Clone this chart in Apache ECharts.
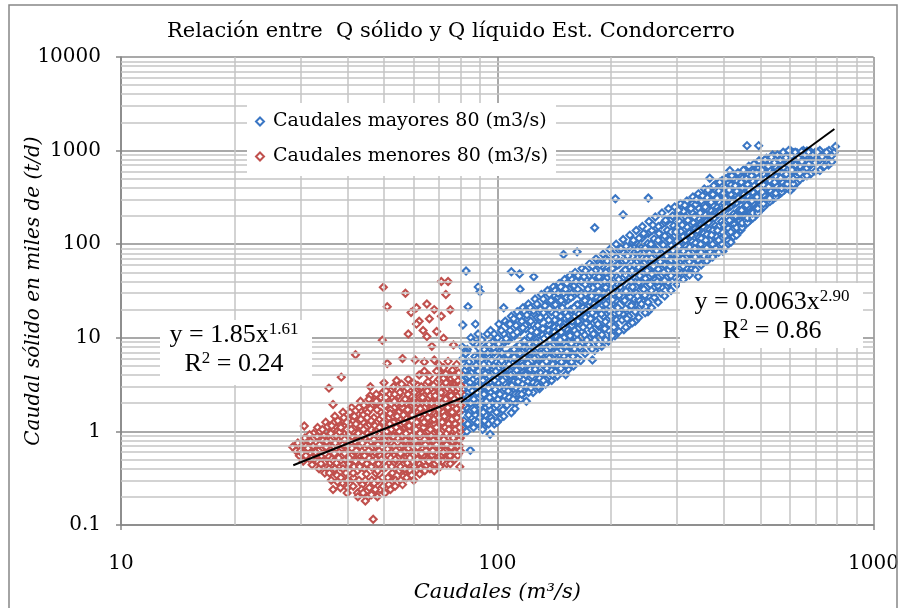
<!DOCTYPE html>
<html>
<head>
<meta charset="utf-8">
<script src="https://cdn.jsdelivr.net/npm/echarts@6/dist/echarts.min.js"></script>
<style>
  html, body { margin: 0; padding: 0; background: #fff; }
  #main { width: 902px; height: 608px; }
</style>
</head>
<body>
<div id="main"></div>
<script>
// Caudales menores 80 (m3/s): [caudal, Q solido en miles t/d]
var redPoints = [
  [28.6,0.68],[29.2,0.62],[29.8,0.55],[30.1,0.72],[30.5,0.48],[30.8,0.85],[31.2,0.6],[31.5,0.52],[31.9,0.78],[32.2,0.44],
  [32.5,0.95],[32.8,0.66],[33.1,0.58],[33.3,1.1],[33.6,0.4],[33.9,0.82],[34.2,0.5],[34.5,0.72],[34.8,0.36],[35.0,1.25],
  [35.3,0.62],[35.6,0.9],[35.9,0.46],[36.2,0.3],[36.4,1.05],[36.6,0.24],[36.7,0.7],[37.0,1.45],[37.2,0.55],[37.5,0.34],
  [37.8,0.85],[38.0,1.2],[38.2,0.42],[38.5,0.65],[38.7,0.28],[38.9,1.6],[39.2,0.95],[39.4,0.5],[39.7,0.75],[40.0,0.25],
  [40.2,1.35],[40.5,0.38],[40.7,0.6],[41.0,1.8],[41.2,0.88],[41.5,0.32],[41.8,1.1],[42.0,0.48],[42.3,0.7],[42.5,0.22],
  [42.8,1.5],[43.0,0.56],[43.3,2.1],[43.5,0.82],[43.8,0.27],[44.0,1.25],[44.3,0.4],[44.5,0.65],[44.8,1.7],[45.0,0.2],
  [45.2,0.95],[45.4,0.2],[45.6,0.52],[45.9,2.4],[46.1,0.75],[46.4,0.3],[46.8,0.115],[47.0,1.4],[47.2,0.6],[47.5,0.36],
  [47.8,1.05],[48.0,2.0],[48.3,0.45],[48.5,0.85],[48.8,0.24],[49.0,1.6],[49.3,0.68],[49.6,2.6],[49.9,0.4],[50.2,1.2],
  [50.5,0.28],[50.8,0.9],[51.0,2.2],[51.3,0.55],[51.6,1.4],[51.9,0.33],[52.2,0.75],[52.5,2.8],[52.8,1.0],[53.1,0.46],
  [53.4,1.8],[53.7,0.3],[54.0,0.62],[54.3,1.25],[54.6,2.4],[54.9,0.38],[55.2,0.85],[55.5,1.55],[55.8,0.5],[56.1,3.0],
  [56.4,0.7],[56.7,1.1],[57.0,0.34],[57.3,2.0],[57.6,0.58],[57.9,1.3],[58.2,0.9],[58.5,2.7],[58.8,0.42],[59.1,1.6],
  [59.4,0.75],[59.7,0.36],[60.0,1.15],[60.3,2.3],[60.6,0.55],[60.9,1.8],[61.2,0.95],[61.5,3.1],[61.8,0.46],[62.1,1.35],
  [62.4,0.68],[62.7,2.0],[63.0,0.4],[63.3,1.05],[63.6,2.6],[63.9,0.8],[64.2,1.5],[64.5,0.52],[64.8,3.2],[65.1,1.2],
  [65.4,0.62],[65.7,2.2],[66.0,0.9],[66.3,0.45],[66.6,1.7],[66.9,2.8],[67.2,0.72],[67.5,1.3],[67.8,0.5],[68.1,2.0],
  [68.4,1.0],[68.7,3.3],[69.0,0.6],[69.3,1.55],[69.6,0.85],[69.9,2.5],[70.2,0.45],[70.5,1.2],[70.8,1.9],[71.1,0.7],
  [71.4,3.0],[71.7,1.4],[72.0,0.55],[72.3,2.3],[72.6,0.95],[72.9,1.7],[73.2,0.5],[73.5,2.8],[73.8,1.15],[74.1,0.75],
  [74.4,2.0],[74.7,3.4],[75.0,0.6],[75.3,1.5],[75.6,0.9],[75.9,2.5],[76.2,0.52],[76.5,1.25],[76.8,3.1],[77.1,0.8],
  [77.4,1.9],[77.7,0.65],[78.0,2.7],[78.3,1.05],[78.6,1.6],[78.9,0.58],[79.2,2.2],[79.5,1.3],[79.8,0.85],
  [30.0,0.62],[31.0,0.7],[32.0,0.58],[33.0,0.75],[34.0,0.64],[34.6,0.9],[35.5,0.55],[36.0,0.8],[36.8,0.48],[37.5,1.0],
  [38.0,0.6],[38.6,0.88],[39.0,0.44],[39.5,1.15],[40.0,0.7],[40.5,0.95],[41.0,0.55],[41.5,1.3],[42.0,0.8],[42.5,0.38],
  [43.0,1.0],[43.5,0.62],[44.0,1.5],[44.5,0.85],[45.0,0.45],[45.5,1.15],[46.0,0.6],[46.5,1.9],[47.0,0.82],[47.5,0.5],
  [48.0,1.25],[48.5,0.62],[49.0,1.0],[49.5,0.32],[50.0,1.5],[50.5,0.72],[51.0,1.1],[51.5,0.45],[52.0,1.7],[52.5,0.62],
  [53.0,1.25],[53.5,0.88],[54.0,2.0],[54.5,0.52],[55.0,1.05],[55.5,0.7],[56.0,1.8],[56.5,0.45],[57.0,1.4],[57.5,0.95],
  [58.0,2.2],[58.5,0.62],[59.0,1.1],[59.5,1.9],[60.0,0.75],[60.5,1.45],[61.0,0.58],[61.5,2.0],[62.0,1.1],[62.5,0.85],
  [63.0,1.7],[63.5,0.55],[64.0,2.4],[64.5,1.0],[65.0,1.85],[65.5,0.75],[66.0,1.3],[66.5,0.58],[67.0,2.1],[67.5,0.95],
  [68.0,1.55],[68.5,0.68],[69.0,2.2],[69.5,1.2],[70.0,1.0],[70.5,2.8],[71.0,0.55],[71.5,1.8],[72.0,1.25],[72.5,0.7],
  [73.0,2.1],[73.5,0.85],[74.0,1.4],[74.5,0.62],[75.0,2.6],[75.5,1.1],[76.0,1.8],[76.5,0.7],[77.0,1.4],[77.5,2.3],
  [78.0,0.9],[78.5,2.0],[79.0,1.6],[79.5,0.7],
  [32.4,0.7],[32.7,0.5],[33.2,0.88],[33.5,0.62],[33.8,1.0],[34.1,0.55],[34.4,0.8],[34.7,0.46],[35.1,0.68],[35.4,1.12],
  [35.7,0.4],[36.1,0.95],[36.3,0.6],[36.5,0.38],[36.9,1.25],
  [37.1,0.75],[37.4,0.46],[37.7,1.3],[37.9,0.52],[38.1,0.98],[38.4,0.32],[38.8,0.72],[39.1,1.4],[39.3,0.58],[39.6,0.36],
  [39.8,1.05],[40.1,0.82],[40.3,0.45],[40.6,1.6],[40.8,0.27],[41.1,0.66],[41.3,1.0],[41.6,0.42],[41.9,0.78],
  [42.1,1.2],[42.4,0.58],[42.7,0.95],[42.9,0.3],[43.2,0.7],[43.4,1.35],[43.7,0.48],[43.9,0.9],[44.2,1.9],[44.4,0.55],
  [44.7,1.1],[44.9,0.35],[45.1,0.72],[45.3,1.6],[45.7,0.25],[45.8,0.88],[46.2,1.3],[46.3,0.42],[46.6,0.68],[46.9,2.1],
  [47.1,0.28],[47.3,1.15],[47.6,0.7],[47.9,1.7],[48.1,0.38],[48.4,0.95],[48.7,1.35],[48.9,0.55],[49.1,2.3],[49.4,0.8],
  [49.7,0.26],[49.8,1.25],[50.1,0.6],[50.4,1.9],[50.7,0.42],[50.9,1.0],[51.2,0.32],[51.4,0.8],[51.7,2.5],[51.8,1.2],
  [52.1,0.52],[52.3,1.05],[52.6,0.36],[52.9,1.45],[53.2,0.7],[53.3,2.1],[53.6,0.5],[53.9,1.1],[54.1,0.28],[54.4,0.85],
  [54.7,1.6],[54.8,0.64],[55.1,2.6],[55.3,0.42],[55.6,1.2],[55.9,0.9],[56.2,0.33],[56.3,1.5],[56.6,0.6],[56.9,2.2],
  [57.1,0.8],[57.4,1.15],[57.7,0.46],[57.8,1.7],[58.1,0.66],[58.4,1.0],[58.7,0.38],[58.9,2.4],[59.2,0.9],[59.3,1.3],
  [59.6,0.55],[59.9,2.0],[60.1,0.42],[60.4,1.05],[60.7,0.8],[60.8,2.7],[61.1,1.25],[61.3,0.5],[61.6,1.6],[61.9,0.7],
  [62.2,2.3],[62.3,0.95],[62.6,0.4],[62.9,1.4],[63.1,0.65],[63.4,2.0],[63.7,1.1],[63.8,0.48],[64.1,0.82],[64.3,1.8],
  [64.6,0.62],[64.9,1.25],[65.2,2.7],[65.3,0.5],[65.6,1.0],[65.9,1.6],[66.1,0.7],[66.4,2.4],[66.7,0.9],[66.8,1.15],
  [67.1,0.56],[67.3,1.9],[67.6,0.8],[67.9,2.6],[68.2,1.2],[68.3,0.45],[68.6,1.45],[68.9,0.72],[69.1,2.0],[69.4,1.0],
  [69.7,0.52],[69.8,1.7],[70.1,0.85],[70.3,2.3],[70.6,0.62],[70.9,1.35],[71.2,1.0],[71.3,2.0],[71.6,0.48],[71.9,1.6],
  [72.1,0.82],[72.4,2.6],[72.7,1.1],[72.8,0.62],[73.1,1.5],[73.3,0.95],[73.6,1.9],[73.9,0.55],[74.2,1.2],[74.3,2.4],
  [74.6,0.85],[74.9,1.6],[75.1,1.05],[75.4,0.68],[75.7,2.2],[75.8,1.35],[76.1,0.78],[76.3,2.9],[76.6,1.0],[76.9,1.6],
  [77.2,0.6],[77.3,1.2],[77.6,2.0],[77.9,0.95],[78.1,1.4],[78.4,0.7],[78.7,2.4],[78.8,1.1],[79.1,0.8],[79.3,1.8],
  [79.6,1.0],[79.9,2.6],[79.7,0.62],[78.2,3.0],[76.4,0.5],
  [29.5,0.75],[30.3,0.58],[31.4,0.66],[31.7,0.92],[32.1,0.52],[32.9,0.6],[33.4,0.47],[33.7,0.72],[34.3,1.05],[34.9,0.58],
  [35.2,0.78],[35.8,0.36],[36.3,1.15],[36.9,0.58],[37.3,0.9],[37.6,0.29],[38.4,1.1],[38.9,0.4],[39.3,0.82],[39.8,1.25],
  [40.4,0.52],[40.9,1.05],[41.4,0.36],[41.7,1.45],[42.2,0.62],[42.9,1.8],[43.1,0.42],[43.8,0.75],[44.1,1.05],[44.6,0.3],
  [45.1,1.4],[45.5,0.62],[46.0,1.75],[46.6,0.48],[47.1,0.95],[47.7,2.1],[48.2,0.72],[48.6,1.1],[49.2,0.5],[49.6,1.45],
  [50.2,0.8],[50.6,2.3],[51.1,0.65],[51.9,1.55],[52.4,0.42],[52.9,0.88],[53.4,2.5],[53.8,0.62],[54.2,1.45],[54.9,1.0],
  [55.3,0.58],[55.8,2.0],[56.4,1.25],[56.8,0.4],[57.2,0.95],[57.9,2.5],[58.3,1.15],[58.6,0.52],[59.4,1.5],[59.8,0.68],
  [60.2,2.6],[60.8,1.05],[61.4,0.68],[61.8,1.45],[62.4,1.75],[62.9,0.58],[63.3,2.3],[63.9,1.25],[64.4,0.72],[64.9,2.0],
  [65.4,1.4],[65.8,0.48],[66.4,1.05],[66.9,2.0],[67.4,0.62],[67.9,1.35],[68.4,2.4],[68.9,1.1],[69.4,0.48],[69.9,1.4],
  [70.4,0.95],[70.9,2.6],[71.4,1.25],[71.9,0.6],[72.4,1.45],[72.9,2.2],[73.4,0.72],[73.9,1.8],[74.4,1.05],[74.9,0.55],
  [75.4,2.4],[75.9,1.6],[76.4,0.85],[76.9,2.2],[77.4,1.05],[77.9,1.75],[78.4,0.55],[78.9,2.9],[79.4,1.1],[79.9,1.9],
  [38.3,0.25],[39.9,0.22],[41.4,0.26],[42.6,0.2],[43.6,0.24],[44.6,0.18],[46.3,0.21],[47.4,0.24],[48.2,0.3],[50.3,0.22],
  [51.5,0.27],[53.5,0.26],[55.4,0.3],[57.4,0.32],[59.2,0.34],[62.2,0.35],[64.2,0.38],[66.2,0.4],[70.4,0.42],[73.4,0.45],
  [45.6,2.2],[47.7,2.5],[50.6,2.7],[53,3.0],[55.7,3.2],[57.7,2.9],[59.9,3.3],[62.8,3.0],[65.5,3.4],[67.7,3.1],
  [70,3.6],[73,3.3],[75.2,3.7],[78.5,3.5],[80,3.1],
  [76,4.5],[78,5.2],[79,4.2],[77,3.8],[74,4.0],[72,3.7],[70,4.3],[66,3.9],[64,4.4],[62,4.0],
  [58,3.6],[54,3.5],[50,3.3],[46,3.0],[79.5,0.42],[77,0.5],[75,0.45],[68,0.38],[60,0.3],[56,0.27],
  [52,0.24],[48,0.2],[44,0.22],[40,0.3],[37,0.4],[34,0.45],[31,0.55],
  [49.8,34.6],[57,30],[71,40],[74,40],[73,29],[51,21.5],[65,23],[61,21],[59,18.6],[68,20],
  [75,19.9],[71,17],[66,16],[62,15],[61,14],[63.5,12],[58,11],[65,10.3],[69,11.7],[72,9.9],
  [49.5,9.4],[67,8.1],[76.5,8.4],[42,6.6],[56,6],[60.5,5.8],[64,5.5],[51,5.3],[38.5,3.8],[35.7,2.9],
  [36.6,1.94],[30.7,1.14],[68,5.8],[70,5.2],[72,4.8],[74,5.6],[69,4.4],[73,4.1]
];

// Caudales mayores 80 (m3/s)
var bluePoints = [
  [80.5,0.95],[81.5,1.3],[80.8,1.7],[82,2.2],[81.2,2.8],[80.6,3.5],[82.3,4.5],[81,6],[80.9,1.1],[81.8,2.5],[82.6,3.1],[80.7,8],[81,13.7],[82.6,51.6],[83.6,21.5],
  [84.8,0.63],[83.5,1.2],[84.2,1.6],[85,2.0],[83.8,2.6],[84.6,3.3],[85.3,4.2],[84,5.5],[83.3,7.5],[85.5,1.4],[84.4,2.9],[85.1,10],
  [86.5,1.1],[87.4,1.5],[88,1.9],[86.8,2.4],[87.7,3.0],[88.4,3.8],[86.3,4.8],[87.2,6.3],[88.2,8.5],[87,1.3],[86.6,2.2],[88.6,3.4],[87.5,14],
  [89.5,1.2],[90.5,1.6],[91.2,2.1],[89.8,2.7],[90.8,3.4],[91.5,4.3],[89.2,5.5],[90.3,7],[91,9.5],[89.6,1.4],[90.7,2.4],[91.8,3.8],[89,35],[90,31],
  [92.5,1.3],[93.4,1.8],[94,2.3],[92.8,3.0],[93.7,3.8],[94.3,4.8],[92.3,6.1],[93.2,8],[94.1,11],[93,1.5],[92.6,2.6],[94.5,4.2],
  [95.7,0.93],[96.4,1.4],[97,2.0],[95.8,2.6],[96.7,3.3],[97.3,4.2],[95.3,5.3],[96.2,6.8],[97.2,9],[96,12],[95.5,1.7],[96.9,3.0],[97.6,4.6],
  [99.5,1.6],[100.5,2.2],[101.2,2.9],[99.8,3.7],[100.8,4.7],[101.5,6],[99.2,7.7],[100.2,10],[101,14],[99.6,1.9],[100.6,3.3],[101.8,5.3],
  [103.5,1.7],[104.5,2.4],[105.2,3.2],[103.8,4.1],[104.8,5.2],[105.5,6.6],[103.2,8.5],[104.2,11],[105,15],[103.6,2.1],[104.6,3.7],[105.8,5.8],[104,21],
  [109,1.58],[108.5,2.6],[109.2,3.5],[107.8,4.5],[108.8,5.7],[109.5,7.3],[107.2,9.4],[108.2,12],[109,17],[107.6,2.3],[108.6,4.0],[109.8,6.5],[109,50.8],
  [111.5,2.0],[112.5,2.9],[113.2,3.9],[111.8,5.0],[112.8,6.4],[113.5,8.2],[111.2,10.5],[112.2,13.5],[113,19],[111.6,2.5],[112.6,4.5],[113.8,7.2],
  [115.5,2.2],[116.5,3.2],[117.2,4.3],[115.8,5.6],[116.8,7.1],[117.5,9.1],[115.2,11.7],[116.2,15],[117,21],[115.6,2.8],[116.6,5.0],[117.8,8.0],[114.6,48],[115,33],
  [119.5,2.1],[120.5,3.4],[121.3,4.6],[119.8,6.0],[120.8,7.6],[121.6,9.8],[119.2,12.5],[120.2,16],[121,23],[119.6,3.0],[120.6,5.3],[122,8.6],
  [124.5,2.6],[125.5,3.8],[126.3,5.2],[124.8,6.7],[125.8,8.5],[126.6,11],[124.2,14],[125.2,18],[126,26],[124.6,3.3],[125.6,6.0],[127,9.6],[125,44.9],
  [129.5,2.85],[130.5,4.2],[131.3,5.8],[129.8,7.5],[130.8,9.5],[131.6,12],[129.2,15.5],[130.2,20],[131,29],[129.6,3.7],[130.6,6.7],[132,10.7],
  [134.5,3.2],[135.5,4.7],[136.3,6.4],[134.8,8.3],[135.8,10.5],[136.6,13.5],[134.2,17],[135.2,22],[136,32],[134.6,4.1],[135.6,7.5],[137,12],
  [139.5,3.5],[140.5,5.2],[141.3,7.0],[139.8,9.2],[140.8,11.6],[141.6,15],[139.2,19],[140.2,25],[141,35],[139.6,4.5],[140.6,8.3],[142,13],
  [144.5,3.9],[145.5,5.7],[146.3,7.8],[144.8,10],[145.8,12.8],[146.6,16.5],[144.2,21],[145.2,27],[146,38],[144.6,5.0],[145.6,9.2],[147,14.5],
  [152,4.04],[150.5,6.3],[151.3,8.6],[149.8,11],[150.8,14],[151.6,18],[149.2,23],[150.2,30],[151,42],[149.6,5.5],[150.6,10],[152,16],[150,77.6],
  [154.5,4.6],[155.5,7],[156.3,9.5],[154.8,12.3],[155.8,15.6],[156.6,20],[154.2,25.5],[155.2,33],[156,46],[154.6,6],[155.6,11],[157,17.5],
  [159.5,5.0],[160.5,7.6],[161.3,10.3],[159.8,13.4],[160.8,17],[161.6,22],[159.2,28],[160.2,36],[161,50],[159.6,6.6],[160.6,12],[162,19],[163,82.8],
  [166.5,5.7],[167.5,8.6],[168.3,11.6],[166.8,15],[167.8,19],[168.6,24.5],[166.2,31],[167.2,40],[168,55],[166.6,7.5],[167.6,13.5],[169,21],
  [179,5.8],[175.5,9.8],[176.3,13.3],[174.8,17.3],[175.8,22],[176.6,28],[174.2,36],[175.2,46],[176,62],[174.6,8.5],[175.6,15.5],[177,24],[181.5,150],
  [181.5,7.3],[182.5,11],[183.3,15],[181.8,19.5],[182.8,24.5],[183.6,31.5],[181.2,40],[182.2,52],[183,70],[181.6,9.5],[182.6,17.5],[184,27],
  [189.5,8.1],[190.5,12.5],[191.3,17],[189.8,22],[190.8,27.5],[191.6,35],[189.2,45],[190.2,58],[191,78],[189.6,10.8],[190.6,19.5],[192,30],
  [197.5,9.2],[198.5,14],[199.3,19],[197.8,24.5],[198.8,31],[199.6,40],[197.2,51],[198.2,65],[199,88],[197.6,12],[198.6,22],[200,34],
  [205.5,10.5],[206.5,15.8],[207.3,21.5],[205.8,27.5],[206.8,35],[207.6,45],[205.2,57],[206.2,73],[207,100],[205.6,13.5],[206.6,25],[208,38],[206,306],
  [217,12.2],[215.5,18],[216.3,24.5],[214.8,31.5],[215.8,40],[216.6,51],[214.2,65],[215.2,83],[216,112],[214.6,15.5],[215.6,28],[217,44],[216,207],
  [223.5,13.5],[224.5,20],[225.3,27.5],[223.8,35],[224.8,45],[225.6,57],[223.2,73],[224.2,93],[225,125],[223.6,17],[224.6,31.5],[226,49],
  [232.5,15],[233.5,22.5],[234.3,30.5],[232.8,39.5],[233.8,50],[234.6,64],[232.2,82],[233.2,104],[234,140],[232.6,19],[233.6,35],[235,55],
  [240,21.5],[242.5,25],[243.3,34],[241.8,44],[242.8,56],[243.6,71],[241.2,91],[242.2,116],[243,155],[241.6,23],[242.6,39],[244,61],[252,311],
  [251.5,19],[252.5,28],[253.3,38],[251.8,49],[252.8,62],[253.6,80],[251.2,102],[252.2,130],[253,175],[251.6,24],[252.6,44],[254,68],
  [261.5,27],[262.5,31],[263.3,42],[261.8,55],[262.8,70],[263.6,89],[261.2,114],[262.2,145],[263,195],[261.6,35],[262.6,49],[264,76],
  [272.5,30],[273.5,35],[274.3,47],[272.8,61],[273.8,77],[274.6,99],[272.2,126],[273.2,160],[274,215],[272.6,40],[273.6,54],[275,84],
  [283.5,36],[284.5,39],[285.3,53],[283.8,68],[284.8,87],[285.6,111],[283.2,141],[284.2,180],[285,240],[283.6,45],[284.6,61],[286,94],
  [305,42.4],[295.5,45],[296.3,59],[294.8,76],[295.8,96],[296.6,123],[294.2,157],[295.2,200],[296,250],[294.6,50],[295.6,68],[297,105],
  [342,45],[306.5,50],[307.3,66],[305.8,85],[306.8,107],[307.6,137],[305.2,175],[306.2,222],[307,270],[305.6,56],[306.6,76],[308,117],
  [317.5,50],[318.5,56],[319.3,73],[317.8,95],[318.8,120],[319.6,153],[317.2,195],[318.2,245],[319,290],[317.6,63],[318.6,85],[320,130],
  [329.5,55],[330.5,62],[331.3,82],[329.8,106],[330.8,134],[331.6,171],[329.2,218],[330.2,270],[331,320],[329.6,70],[330.6,95],[332,145],
  [341.5,68],[342.5,91],[343.3,117],[341.8,149],[342.8,190],[343.6,240],[341.2,295],[342.2,345],[343,78],[344,106],[345,160],
  [360,67.6],[354.5,75],[355.3,100],[353.8,130],[354.8,165],[355.6,210],[353.2,265],[354.2,320],[355,390],[353.6,86],[354.6,117],[356,178],
  [366.5,74],[367.5,83],[368.3,111],[366.8,143],[367.8,182],[368.6,232],[366.2,290],[367.2,350],[367,507],[366.6,95],[367.6,129],[369,196],
  [379.5,80],[380.5,91],[381.3,122],[379.8,157],[380.8,200],[381.6,255],[379.2,320],[380.2,380],[381,440],[379.6,104],[380.6,141],[382,215],
  [398,84],[395.5,100],[396.3,135],[394.8,175],[395.8,222],[396.6,283],[394.2,350],[395.2,420],[396,480],[394.6,115],[395.6,157],[397,240],
  [409.5,100],[410.5,110],[411.3,148],[409.8,192],[410.8,244],[411.6,310],[409.2,380],[410.2,460],[411,520],[409.6,127],[410.6,172],[412,263],
  [424.5,120],[425.5,135],[426.3,162],[424.8,210],[425.8,268],[426.6,340],[424.2,420],[425.2,500],[415,612],[424.6,145],[425.6,190],[427,290],
  [444,141],[440.5,155],[441.3,178],[439.8,232],[440.8,295],[441.6,375],[439.2,460],[440.2,550],[439.6,200],[440.6,208],[442,318],
  [454.5,160],[455.5,195],[456.3,255],[454.8,325],[455.8,410],[456.6,500],[454.2,600],[461,1130],[454.6,175],[455.6,230],[457,350],
  [469.5,180],[470.5,215],[471.3,280],[469.8,355],[470.8,450],[471.6,550],[469.2,650],[469.6,195],[470.6,250],[472,380],
  [484.5,200],[485.5,240],[486.3,305],[484.8,390],[485.8,490],[486.6,600],[484.2,700],[495,1130],[484.6,215],[485.6,275],[487,415],
  [499.5,230],[500.5,265],[501.3,335],[499.8,425],[500.8,530],[501.6,650],[499.2,760],[506,243],[500.6,300],[502,450],
  [520,271],[520.5,300],[521.3,375],[519.8,475],[520.8,590],[521.6,720],[519.2,830],[519.6,330],[522,510],
  [539.5,300],[540.5,340],[541.3,420],[539.8,530],[540.8,650],[541.6,780],[539.2,900],[539.6,370],[542,570],
  [559.5,340],[560.5,380],[561.3,470],[559.8,590],[560.8,720],[561.6,860],[566,351],[559.6,420],[562,640],
  [579.5,380],[580.5,430],[581.3,520],[579.8,650],[580.8,790],[581.6,940],[601,375],[579.6,470],[582,700],
  [613,405],[600.5,480],[601.3,580],[599.8,720],[600.8,870],[601.6,1000],[599.6,530],[602,780],
  [624.5,450],[625.5,540],[626.3,650],[624.8,800],[625.8,950],[624.6,600],[627,880],
  [649.5,520],[650.5,610],[651.3,730],[649.8,890],[650.8,1000],[649.6,680],[652,930],
  [679.5,560],[680.5,700],[681.3,830],[679.8,980],[680.8,760],[682,900],
  [720,612],[720.5,800],[721.3,950],[719.8,1000],[720.8,870],
  [759.5,700],[760.5,900],[761.3,1000],
  [792,1105],[785,950],
  [83,1.0],[82.8,1.8],[83.2,3.8],[82.9,5],[83.4,2.3],[83,7],
  [88.6,1.25],[88.8,2.0],[88.4,3.0],[89,4.4],[88.7,6],[88.9,11],
  [91.8,1.6],[92.2,2.5],[91.6,3.5],[92,5.2],[92.3,7.5],[91.9,1.1],
  [95,1.9],[94.8,2.9],[95.2,3.9],[94.7,6.3],[95.1,8.5],[94.9,1.2],
  [98.2,1.2],[98,2.4],[98.4,3.5],[97.9,5],[98.3,7],[98.1,11],
  [102.3,1.4],[102.5,2.6],[102,4.2],[102.7,5.7],[102.2,8.2],[102.5,12],
  [106.2,1.9],[106.5,3.0],[106,4.7],[106.8,6.6],[106.3,9.5],[106.6,14],
  [110.2,2.2],[110.5,3.4],[110,5.3],[110.8,7.5],[110.3,10.8],[110.6,16],
  [114,2.5],[114.3,3.8],[113.9,5.9],[114.5,8.4],[114.2,12],[114.6,17],
  [118,2.6],[118.3,4.1],[118.5,6.5],[118.1,9.3],[118.6,13.5],[118.2,19],
  [122.6,2.9],[122.4,4.6],[122.8,7],[122.2,10.5],[122.7,15],[122.5,21],
  [127.6,3.2],[127.4,5.1],[127.8,7.9],[127.2,11.5],[127.7,16.5],[127.5,23],
  [132.6,3.5],[132.4,5.5],[132.8,8.7],[132.2,12.5],[132.7,18.5],[132.5,26],
  [137.6,3.9],[137.4,6.1],[137.8,9.5],[137.2,14],[137.7,20.5],[137.5,29],
  [142.6,4.3],[142.4,6.7],[142.8,10.5],[142.2,15.5],[142.7,22.5],[142.5,32],
  [147.6,4.7],[147.4,7.3],[147.8,11.5],[147.2,17],[147.7,25],[147.5,35],
  [152.6,5.1],[152.4,8],[152.8,12.5],[152.2,18.5],[152.7,27],[153,38],
  [157.6,5.5],[157.4,8.7],[157.8,13.5],[157.2,20],[157.7,30],[158,42],
  [163.6,6],[163.4,9.5],[163.8,15],[163.2,22.5],[163.7,33],[164,46],
  [171.2,6.8],[170.8,10.7],[171.5,16.5],[171,25],[171.3,37],[171.6,52],
  [178.6,7.6],[178.4,12],[178.8,18.5],[178.2,28],[178.7,41],[179,58],
  [186.2,8.5],[185.8,13.3],[186.5,20.5],[186,31],[186.3,45],[186.6,64],
  [194.2,9.5],[193.8,14.8],[194.5,23],[194,34.5],[194.3,50],[194.6,70],
  [202.2,10.5],[201.8,16.5],[202.5,25.5],[202,38],[202.3,55],[202.6,78],
  [210.6,11.7],[210.4,18.5],[210.8,28.5],[210.2,42],[210.7,61],[211,86],
  [219.6,13],[219.4,20.5],[219.8,31.5],[219.2,47],[219.7,67],[220,95],
  [228.6,14.5],[228.4,23],[228.8,35],[228.2,52],[228.7,74],[229,105],
  [237.6,16.5],[237.4,25.5],[237.8,39],[237.2,57],[237.7,82],[238,116],
  [247.2,18.5],[246.8,28.5],[247.5,43],[247,64],[247.3,91],[247.6,128],
  [257.2,21],[256.8,32],[257.5,48],[257,71],[257.3,100],[257.6,140],
  [267.6,24],[267.4,36],[267.8,54],[267.2,79],[267.7,110],[268,155],
  [278.6,28],[278.4,41],[278.8,60],[278.2,88],[278.7,122],[279,170],
  [289.6,32],[289.4,46],[289.8,67],[289.2,98],[289.7,135],[290,185],
  [300.6,37],[300.4,52],[300.8,75],[300.2,108],[300.7,150],[301,205],
  [312.2,42],[311.8,58],[312.5,84],[312,120],[312.3,165],[312.6,225],
  [324.2,47],[323.8,65],[324.5,93],[324,132],[324.3,182],[324.6,245],
  [336.2,53],[335.8,73],[336.5,103],[336,146],[336.3,200],[336.6,265],
  [348.2,60],[347.8,82],[348.5,115],[348,160],[348.3,220],[348.6,290],
  [360.6,66],[360.4,91],[360.8,127],[360.2,176],[360.7,240],[361,315],
  [373.6,73],[373.4,100],[373.8,140],[373.2,193],[373.7,262],[374,340],
  [387.6,82],[387.4,110],[387.8,155],[387.2,212],[387.7,285],[388,370],
  [402.6,92],[402.4,122],[402.8,170],[402.2,232],[402.7,310],[403,400],
  [417.6,105],[417.4,135],[417.8,186],[417.2,254],[417.7,340],[418,430],
  [432.6,125],[432.4,150],[432.8,205],[432.2,278],[432.7,370],[433,465],
  [447.6,150],[447.4,168],[447.8,225],[447.2,300],[447.7,400],[448,505],
  [462.6,170],[462.4,190],[462.8,248],[462.2,330],[462.7,435],[463,545],
  [477.6,190],[477.4,215],[477.8,272],[477.2,360],[477.7,470],[478,590],
  [492.6,215],[492.4,240],[492.8,300],[492.2,390],[492.7,510],[493,640],
  [510.2,250],[509.8,270],[510.5,335],[510,430],[510.3,560],[510.6,690],
  [530.2,285],[529.8,310],[530.5,375],[530,480],[530.3,610],[530.6,750],
  [550.2,320],[549.8,350],[550.5,420],[550,530],[550.3,660],[550.6,800],
  [570.2,360],[569.8,395],[570.5,465],[570,580],[570.3,710],[570.6,850],
  [590.2,400],[589.8,440],[590.5,510],[590,630],[590.3,760],[590.6,900],
  [612.2,440],[611.8,500],[612.5,600],[612,720],[612.3,840],[612.6,950],
  [637.2,490],[636.8,570],[637.5,680],[637,800],[637.3,920],
  [665.2,540],[664.8,650],[665.5,770],[665,880],[665.3,990],
  [700.2,600],[699.8,740],[700.5,860],[700,960],
  [740.2,680],[739.8,820],[740.5,940],
  [775,760],[774,880],
  [81.7,1.9],[82.4,6.8],[83.9,1.5],[84.3,3.9],[85.8,2.7],[86.1,9],[86.9,1.7],[87.9,5.1],[88.3,2.6],[89.3,7.8],
  [90.1,1.9],[90.9,5.9],[91.4,1.05],[92.9,4.1],[93.6,2.1],[94.4,6.9],[95.4,2.3],[96.6,5.8],[97.1,1.3],[97.8,7.9],
  [98.7,2.8],[99.1,4.4],[99.9,1.25],[100.9,8.6],[101.6,2.5],[102.9,6.9],[103.3,3.5],[104.1,1.45],[105.6,9.8],[106.9,2.7],
  [107.4,5.2],[108.1,14],[109.4,3.1],[110.9,6.2],[111.4,1.75],[112.9,11.5],[113.6,3.4],[114.9,6.8],[116.1,2.5],[116.9,12.8],
  [117.6,6.2],[119.1,4.0],[119.9,17.5],[121.1,2.6],[121.9,7.2],[123.1,12],[123.8,3.9],[124.9,19.5],[126.1,4.6],[126.9,8.9],
  [128.1,13.5],[128.8,3.0],[130.1,16.5],[131.9,5.2],[133.1,9.8],[133.9,22],[135.1,5.6],[136.9,15.5],[138.1,8.0],[138.9,25],
  [140.1,4.0],[141.9,11.5],[143.1,18],[144.1,7.0],[145.1,30],[146.9,9.5],[148.1,5.5],[148.9,21],[150.1,13],[151.9,33],
  [153.1,7.1],[154.1,17],[156.1,10.5],[156.9,27],[158.1,15],[158.9,6.3],[160.1,21],[161.9,40],[162.9,11],[164.9,18],
  [165.9,8],[166.9,28],[169.1,13],[170.1,45],[172.1,20],[173.1,9.5],[174.1,33],[176.9,16],[177.9,50],[180.1,11],
  [180.9,23],[184.9,36],[185.1,14],[187.1,60],[188.1,26],[189.1,18],[192.9,40],[193.1,12.5],[195.1,28],[196.1,66],
  [199.9,17],[201.1,46],[203.1,30],[204.1,13],[208.9,60],[209.1,21],[212.1,35],[213.1,90],[218.1,25],[218.9,53],
  [221.1,16],[222.1,75],[226.9,40],[227.1,22],[230.1,110],[231.1,60],[235.9,28],[236.1,88],[239.1,46],[244.9,130],
  [245.1,33],[249.1,70],[250.1,52],[255.1,37],[256.1,100],[259.1,160],[260.1,58],[265.1,85],[266.1,40],[269.1,130],
  [271.1,65],[276.1,98],[277.1,50],[280.1,180],[282.1,75],[287.1,110],[288.1,58],[292.1,200],[293.1,85],[298.1,135],
  [299.1,68],[303.1,230],[304.1,95],[310.1,160],[311.1,70],[315.1,260],[316.1,110],[321.1,180],[322.1,80],[327.1,240],
  [328.1,125],[334.1,195],[335.1,90],[338.1,300],[340.1,140],[346.1,215],[347.1,100],[351.1,330],[352.1,155],[357.1,250],
  [358.1,110],[363.1,380],[364.1,170],[370.1,280],[371.1,125],[376.1,420],[377.1,190],[384.1,310],[385.1,140],[390.1,460],
  [391.1,220],[399.1,350],[400.1,160],[405.1,500],[406.1,250],[413.1,380],[414.1,180],[420.1,540],[421.1,280],[429.1,420],
  [430.1,200],[436.1,580],[437.1,310],[445.1,460],[446.1,230],[451.1,620],[452.1,340],[459.1,500],[460.1,260],[466.1,680],
  [467.1,380],[474.1,540],[475.1,290],[481.1,720],[482.1,420],[489.1,580],[490.1,320],[496.1,780],[497.1,460],[505.1,620],
  [506.1,360],[515.1,800],[516.1,500],[525.1,680],[526.1,410],[535.1,850],[536.1,560],[545.1,740],[546.1,460],[555.1,900],
  [556.1,610],[565.1,790],[566.1,510],[575.1,960],[576.1,660],[585.1,840],[586.1,560],[595.1,1000],[596.1,700],[606.1,880],
  [607.1,620],[619.1,960],[620.1,700],[631.1,840],[644.1,980],[645.1,760],[657.1,900],[672.1,960],[673.1,720],[690.1,900],
  [710.1,960],[730.1,860],[750.1,960]
];

// lineas de tendencia (extremos)
var redTrend = [[28.7, 0.435], [81, 2.3]];
var blueTrend = [[80, 2.05], [787, 1700]];

// lineas secundarias de la grilla logaritmica
var xMinor = [20, 30, 40, 50, 60, 70, 80, 90, 200, 300, 400, 500, 600, 700, 800, 900];
var yMinor = [0.2, 0.3, 0.4, 0.5, 0.6, 0.7, 0.8, 0.9, 2, 3, 4, 5, 6, 7, 8, 9,
              20, 30, 40, 50, 60, 70, 80, 90, 200, 300, 400, 500, 600, 700, 800, 900,
              2000, 3000, 4000, 5000, 6000, 7000, 8000, 9000];

var BLUE = '#3a76c4';
var RED = '#c0504d';
var SERIF = 'DejaVu Serif';

var myChart = echarts.init(document.getElementById('main'));

var minorLines = [];
xMinor.forEach(function (v) { minorLines.push({ xAxis: v }); });
yMinor.forEach(function (v) { minorLines.push({ yAxis: v }); });

function fmt(v) { return String(+v.toPrecision(6)); }

var eqRich = {
    a: { fontFamily: 'Liberation Serif', fontSize: 26, lineHeight: 29, fill: '#000' },
    s: { fontFamily: 'Liberation Serif', fontSize: 17, lineHeight: 17, verticalAlign: 'top', fill: '#000' }
};

myChart.setOption({
    animation: false,
    backgroundColor: '#fff',
    title: {
        text: 'Relación entre  Q sólido y Q líquido Est. Condorcerro',
        left: 'center',
        top: 16,
        textStyle: { fontFamily: SERIF, fontSize: 21, fontWeight: 'normal', color: '#000' }
    },
    grid: { left: 121, right: 28, top: 57, bottom: 82 },
    legend: {
        left: 249,
        top: 103,
        z: 20,
        orient: 'vertical',
        padding: [9, 10, 9, 6],
        itemWidth: 8,
        itemHeight: 8,
        itemGap: 16,
        textStyle: { fontFamily: SERIF, fontSize: 19, color: '#000', padding: [0, 0, 0, 4] },
        data: [
            { name: 'Caudales mayores 80 (m3/s)', icon: 'diamond',
              itemStyle: { color: '#fff', borderColor: BLUE, borderWidth: 2 } },
            { name: 'Caudales menores 80 (m3/s)', icon: 'diamond',
              itemStyle: { color: '#fff', borderColor: RED, borderWidth: 2 } }
        ]
    },
    xAxis: {
        type: 'log',
        logBase: 10,
        min: 10,
        max: 1000,
        name: 'Caudales (m³/s)',
        nameLocation: 'middle',
        nameGap: 57,
        nameMoveOverlap: false,
        nameTextStyle: { fontFamily: SERIF, fontStyle: 'italic', fontSize: 21, color: '#000' },
        axisLine: { show: true, onZero: false, lineStyle: { color: '#868686', width: 1.5 } },
        axisTick: { show: true, length: 5, lineStyle: { color: '#868686', width: 1.5 } },
        axisLabel: { margin: 29, fontFamily: SERIF, fontSize: 20, color: '#000', formatter: fmt },
        splitLine: { show: true, lineStyle: { color: '#8c8c8c', width: 1.5 } }
    },
    yAxis: {
        type: 'log',
        logBase: 10,
        min: 0.1,
        max: 10000,
        name: 'Caudal sólido en miles de (t/d)',
        nameLocation: 'middle',
        nameGap: 77,
        nameMoveOverlap: false,
        nameTextStyle: { fontFamily: SERIF, fontStyle: 'italic', fontSize: 20, color: '#000' },
        axisLine: { show: true, lineStyle: { color: '#868686', width: 1.5 } },
        axisTick: { show: true, length: 5, lineStyle: { color: '#868686', width: 1.5 } },
        axisLabel: { margin: 20, fontFamily: SERIF, fontSize: 20, color: '#000', formatter: fmt },
        splitLine: { show: true, lineStyle: { color: '#8c8c8c', width: 1.5 } }
    },
    series: [
        {
            name: 'grilla',
            type: 'scatter',
            data: [[100, 1]],
            symbolSize: 0,
            itemStyle: { opacity: 0 },
            z: 1,
            silent: true,
            markLine: {
                silent: true,
                animation: false,
                symbol: ['none', 'none'],
                label: { show: false },
                emphasis: { disabled: true },
                lineStyle: { color: '#c4c4c4', width: 1.5, type: 'solid' },
                data: minorLines
            }
        },
        {
            name: 'Caudales mayores 80 (m3/s)',
            type: 'scatter',
            symbol: 'diamond',
            symbolSize: 7,
            z: 3,
            itemStyle: { color: '#fff', borderColor: BLUE, borderWidth: 2.1, opacity: 1 },
            data: bluePoints
        },
        {
            name: 'Caudales menores 80 (m3/s)',
            type: 'scatter',
            symbol: 'diamond',
            symbolSize: 7,
            z: 3,
            itemStyle: { color: '#fff', borderColor: RED, borderWidth: 2.1, opacity: 1 },
            data: redPoints
        },
        {
            name: 'tendencia menores',
            type: 'line',
            showSymbol: false,
            z: 5,
            lineStyle: { color: '#000', width: 2 },
            data: redTrend
        },
        {
            name: 'tendencia mayores',
            type: 'line',
            showSymbol: false,
            z: 5,
            lineStyle: { color: '#000', width: 2 },
            data: blueTrend
        }
    ],
    graphic: [
        {   // borde del area del grafico
            type: 'rect', z: 10, silent: true,
            shape: { x: 9, y: 5, width: 888, height: 620 },
            style: { fill: 'none', stroke: '#868686', lineWidth: 1.5 }
        },
        {   // fondo de la leyenda
            type: 'rect', z: 10, silent: true,
            shape: { x: 247, y: 103, width: 309, height: 73 },
            style: { fill: '#fff' }
        },
        {   // cuadro ecuacion menores
            type: 'rect', z: 10, silent: true,
            shape: { x: 160, y: 320, width: 152, height: 65 },
            style: { fill: '#fff' }
        },
        {
            type: 'text', z: 11, silent: true,
            x: 234, y: 350,
            style: {
                text: '{a|y = 1.85x}{s|1.61}\n{a|R}{s|2}{a| = 0.24}',
                align: 'center', verticalAlign: 'middle',
                rich: eqRich
            }
        },
        {   // cuadro ecuacion mayores
            type: 'rect', z: 10, silent: true,
            shape: { x: 680, y: 283, width: 183, height: 65 },
            style: { fill: '#fff' }
        },
        {
            type: 'text', z: 11, silent: true,
            x: 772, y: 317,
            style: {
                text: '{a|y = 0.0063x}{s|2.90}\n{a|R}{s|2}{a| = 0.86}',
                align: 'center', verticalAlign: 'middle',
                rich: eqRich
            }
        }
    ]
});
</script>
</body>
</html>
